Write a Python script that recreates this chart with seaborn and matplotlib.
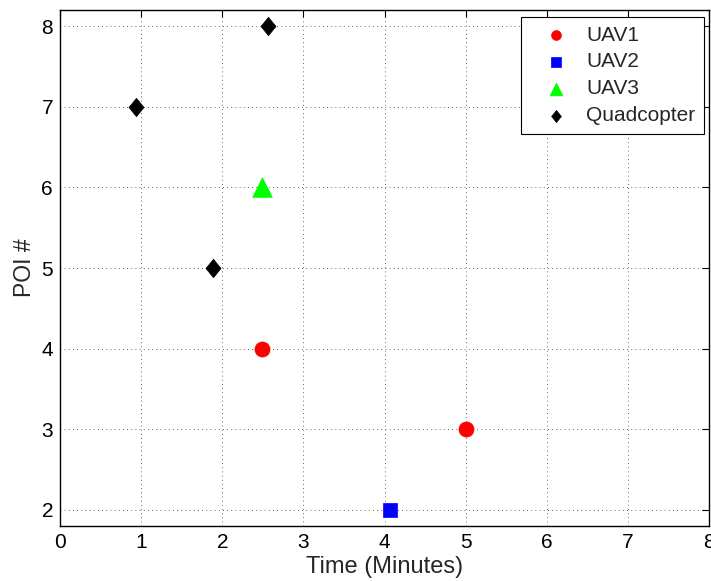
import matplotlib
matplotlib.use("Agg")
import matplotlib.pyplot as plt
import seaborn as sns
import pandas as pd

# POI visit times (minutes) for each vehicle
uav1_time = [2.49, 5.01]
uav1_poi = [4, 3]
uav2_time = [4.07]
uav2_poi = [2]
uav3_time = [2.49]
uav3_poi = [6]
quad_time = [0.94, 1.89, 2.57]
quad_poi = [7, 5, 8]

x_ticks = [0, 1, 2, 3, 4, 5, 6, 7, 8]
y_ticks = [2, 3, 4, 5, 6, 7, 8]

sns.set_style("white")
plt.rcParams["font.family"] = ["Liberation Sans", "DejaVu Sans"]

fig = plt.figure(figsize=(7.11, 5.81), dpi=100)
ax = fig.add_axes([60 / 711, (581 - 526) / 581, 649 / 711, 516 / 581])

# slightly narrow diamond
diamond = [(0, 1), (0.82, 0), (0, -1), (-0.82, 0), (0, 1)]

series = [
    ("UAV1", uav1_time, uav1_poi, "#ff0000", "o", 118),
    ("UAV2", uav2_time, uav2_poi, "#0000ff", "s", 100),
    ("UAV3", uav3_time, uav3_poi, "#00ff00", "^", 200),
    ("Quadcopter", quad_time, quad_poi, "#000000", diamond, 175),
]
for name, t, p, col, mk, sz in series:
    df = pd.DataFrame({"Time": t, "POI": p})
    sns.scatterplot(data=df, x="Time", y="POI", ax=ax, color=col, marker=mk,
                    s=sz, edgecolor=col, linewidth=0.5, label=name, zorder=3)

ax.set_xlim(0, 8)
ax.set_ylim(1.8, 8.2)
ax.set_xticks(x_ticks)
ax.set_yticks(y_ticks)
ax.tick_params(direction="in", length=5, width=0.8, top=True, right=True,
               labelsize=15, pad=5, colors="black")
ax.grid(True, linestyle=(0, (1, 4)), color="black", linewidth=0.6, alpha=0.8)
for s in ax.spines.values():
    s.set_visible(True)
    s.set_color("black")
    s.set_linewidth(1.0)

ax.set_xlabel("Time (Minutes)", fontsize=17, labelpad=3)
ax.set_ylabel("POI #", fontsize=16.5, labelpad=4)

leg = ax.legend(loc="upper right", fontsize=15, frameon=True, fancybox=False,
                edgecolor="black", framealpha=1, borderpad=0.4,
                labelspacing=0.38, handlelength=2.6, handletextpad=0.15,
                markerscale=0.65, borderaxespad=0,
                bbox_to_anchor=(0.992, 0.986))
leg.get_frame().set_linewidth(0.8)

fig.savefig("out.png", dpi=100)
